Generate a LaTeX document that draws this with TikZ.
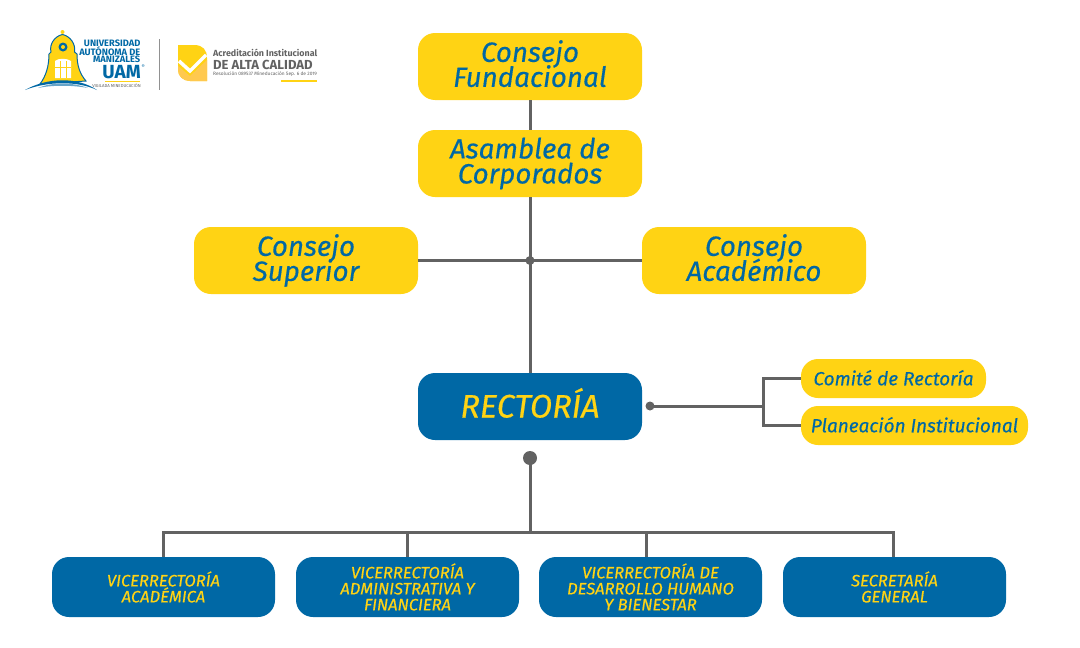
\documentclass[tikz,border=0pt]{standalone}
\usepackage{tikz}
\usepackage{xcolor}
\usepackage{fontspec}
\setmainfont{Fira Sans}
\newfontfamily\cardfont[FakeBold=0.35]{Fira Sans}
\lineskiplimit=-20pt
\definecolor{uamblue}{HTML}{0068A5}
\definecolor{uamyellow}{HTML}{FFD314}
\definecolor{uamlight}{HTML}{FFC94F}
\definecolor{uamgray}{HTML}{626262}
\tikzset{
  yellowbox/.style={fill=uamyellow,text=uamblue,rounded corners=17pt,minimum width=224pt,minimum height=67pt,align=center,inner sep=0pt,font=\cardfont\itshape\fontsize{27.8}{25}\selectfont,execute at begin node={\rule{0pt}{34pt}},execute at end node={\rule[-6pt]{0pt}{6pt}}},
  rectorbox/.style={fill=uamblue,text=uamyellow,rounded corners=17pt,minimum width=224pt,minimum height=67pt,inner sep=0pt,text height=22pt,text depth=0pt,font=\cardfont\itshape\fontsize{32.5}{30}\selectfont},
  sidebox/.style={fill=uamyellow,text=uamblue,rounded corners=17pt,minimum height=39pt,inner sep=0pt,text height=13.5pt,text depth=0pt,font=\cardfont\itshape\fontsize{19}{20}\selectfont},
  vicebox/.style={fill=uamblue,text=uamyellow,rounded corners=17pt,minimum width=223pt,minimum height=60pt,align=center,inner sep=0pt,font=\cardfont\itshape\fontsize{16.6}{16}\selectfont},
  linkline/.style={draw=uamgray,line width=3pt},
  logotext/.style={inner sep=0pt,anchor=east,text=uamblue,font=\bfseries\fontsize{9.3}{9}\selectfont}
}
\begin{document}
\begin{tikzpicture}[x=1pt,y=-1pt]
\useasboundingbox (0,0) rectangle (1080,648);
% upper boxes
\node[yellowbox] (fundacional) at (530,66.5) {Consejo\\Fundacional};
\node[yellowbox] (asamblea) at (530,163.5) {Asamblea de\\Corporados};
\node[yellowbox] (superior) at (306,260.5) {Consejo\\Superior};
\node[yellowbox] (academico) at (754,260.5) {Consejo\\Académico};
\node[rectorbox] (rectoria) at (530,406.5) {RECTORÍA};
\node[sidebox,minimum width=185pt] (comite) at (893.5,378.5) {Comité de Rectoría};
\node[sidebox,minimum width=227pt] (planeacion) at (914.5,425.5) {Planeación Institucional};
% lower boxes
\node[vicebox] (academica) at (163.5,587) {VICERRECTORÍA\\ACADÉMICA};
\node[vicebox] (administrativa) at (407.5,587) {VICERRECTORÍA\\ADMINISTRATIVA Y\\FINANCIERA};
\node[vicebox] (desarrollo) at (650.5,587) {VICERRECTORÍA DE\\DESARROLLO HUMANO\\Y BIENESTAR};
\node[vicebox] (secretaria) at (894.5,587) {SECRETARÍA\\GENERAL};
% joints
\coordinate (cross) at (530,260.5);
\coordinate (sidedot) at (650,406);
\coordinate (sidejoint) at (763,406);
\coordinate (lowdot) at (530,458);
\coordinate (busjoint) at (530,532.5);
\coordinate (devdrop) at (646,557);
\coordinate (secdrop) at (893,557);
% lines
\draw[linkline] (fundacional) -- (asamblea);
\draw[linkline] (asamblea) -- (rectoria);
\draw[linkline] (superior) -- (academico);
\fill[uamgray] (cross) circle (4.5);
\draw[linkline] (sidedot) -- (sidejoint);
\draw[linkline] (comite.west) -| (sidejoint) |- (planeacion.west);
\fill[uamgray] (sidedot) circle (4.5);
\fill[uamgray] (lowdot) circle (7);
\draw[linkline] (lowdot) -- (busjoint);
\draw[linkline] (academica.north) |- (busjoint);
\draw[linkline] (secdrop) |- (busjoint);
\draw[linkline] (administrativa.north) -- (administrativa.north|-busjoint);
\draw[linkline] (devdrop) -- (devdrop|-busjoint);
% logo
\fill[uamyellow,draw=uamblue,line width=1pt] (40,84) .. controls (46,76) and (49,66) .. (49,54) -- (51,52) .. controls (49,44) and (55,36) .. (62.5,34.5) .. controls (70,36) and (76,44) .. (74.5,52) -- (77,54) .. controls (77,66) and (80,74) .. (86,81) -- cycle;
\fill[uamyellow] (62.5,32) circle (2);
\fill[white] (55,61) .. controls (58,58) and (67,58) .. (71,61) -- (71,78) -- (55,78) -- cycle;
\draw[uamyellow,line width=1pt] (55,67) -- (71,67) (60,61) -- (60,78) (66,61) -- (66,78);
\fill[uamblue] (63,47) circle (4.5);
\fill[uamyellow] (63,47) circle (2);
\fill[white] (28,92) .. controls (50,78) and (75,78) .. (100,92) -- cycle;
\fill[uamblue] (25,90) .. controls (48,77) and (78,77) .. (97,90) .. controls (78,81) and (48,81) .. (25,90);
\fill[uamblue!60] (38,88) .. controls (52,82) and (72,82) .. (88,88) .. controls (72,85) and (52,85) .. (38,88);
\node[logotext] (uni1) at (140.5,43.5) {UNIVERSIDAD};
\node[logotext] (uni2) at (140.5,51.5) {AUTÓNOMA DE};
\node[logotext] (uni3) at (140.5,59.5) {MANIZALES};
\node[logotext,font=\bfseries\fontsize{19}{19}\selectfont] (uam) at (141,72.5) {UAM};
\node[logotext,text=uamblue,font=\fontsize{5}{5}\selectfont] (reg) at (145,67) {®};
\draw[uamyellow,line width=1pt] (105,81.5) -- (140,81.5);
\node[logotext,text=uamgray,font=\fontsize{4.3}{4}\selectfont] (vigilada) at (141,85.5) {VIGILADA MINEDUCACIÓN};
\draw[uamgray!70,line width=1pt] (159,39) -- (159,90);
\fill[uamyellow] (178,45) -- (194,45) .. controls (203,45) and (207,50) .. (207,58) -- (207,81) -- (190,81) .. controls (183,81) and (178,76) .. (178,70) -- cycle;
\fill[uamlight] (178,66) -- (190,76) -- (207,60) -- (207,81) -- (190,81) .. controls (183,81) and (178,76) .. (178,70) -- cycle;
\draw[white,line width=3.5pt] (179,61) -- (190,71) -- (206,55);
\node[inner sep=0pt,anchor=west,text=uamgray,font=\bfseries\fontsize{8.9}{9}\selectfont] (acred) at (213,53) {Acreditación Institucional};
\node[inner sep=0pt,anchor=west,text=uamgray,font=\bfseries\fontsize{13.1}{12}\selectfont] (alta) at (213,64.5) {DE ALTA CALIDAD};
\node[inner sep=0pt,anchor=west,text=uamgray,font=\fontsize{4.8}{5}\selectfont] (resol) at (213,74) {Resolución 089537 Mineducación Sep. 6 de 2019};
\draw[uamyellow,line width=1.5pt] (281,81) -- (317,81);
\end{tikzpicture}
\end{document}
